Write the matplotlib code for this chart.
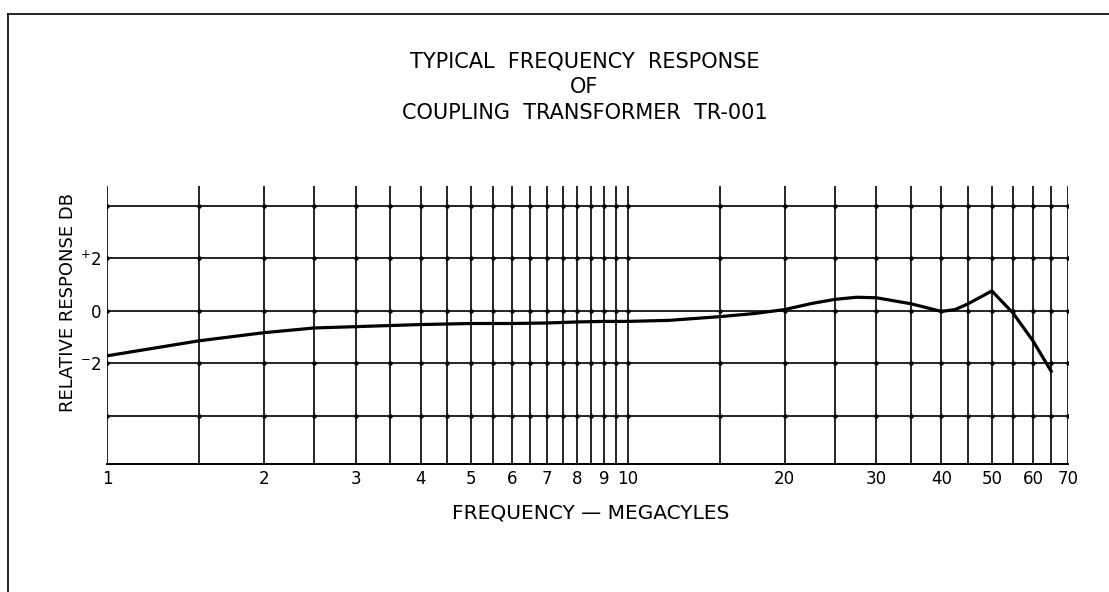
import numpy as np
import matplotlib.pyplot as plt

# values
freq_mc = [1, 1.5, 2, 2.5, 3, 4, 5, 6, 7, 8, 9, 10, 12, 15, 17.5, 20, 22.5, 25,
           27.5, 30, 35, 40, 42.5, 45, 50, 55, 60, 65]
response_db = [-1.71, -1.14, -0.83, -0.65, -0.6, -0.52, -0.48, -0.48, -0.46, -0.42,
               -0.4, -0.4, -0.36, -0.22, -0.1, 0.05, 0.28, 0.44, 0.52, 0.5, 0.27,
               -0.02, 0.05, 0.27, 0.76, -0.1, -1.15, -2.3]

grid_x = [1, 1.5, 2, 2.5, 3, 3.5, 4, 4.5, 5, 5.5, 6, 6.5, 7, 7.5, 8, 8.5, 9, 9.5,
          10, 15, 20, 25, 30, 35, 40, 45, 50, 55, 60, 65, 70]
grid_y = [-4, -2, 0, 2, 4]
xtick_vals = [1, 2, 3, 4, 5, 6, 7, 8, 9, 10, 20, 30, 40, 50, 60, 70]
xtick_labels = ['1', '2', '3', '4', '5', '6', '7', '8', '9', '10', '20', '30', '40', '50', '60', '70']
ytick_vals = [2, 0, -2]
ytick_labels = [r'$^{+}$2', '0', r'$^{-}$2']

title_lines = ['TYPICAL  FREQUENCY  RESPONSE', 'OF', 'COUPLING  TRANSFORMER  TR-001']

plt.rcParams['font.family'] = ['DejaVu Sans']
plt.rcParams['mathtext.default'] = 'regular'

fig = plt.figure(figsize=(11.09, 5.92), dpi=100)
ax = fig.add_axes([0.0965, 0.2162, 0.8665, 0.4698])

ax.set_xscale('log')
ax.set_xlim(1, 70)
ax.set_ylim(-5.83, 4.76)

# grid drawn by hand so the top stays open
for gx in grid_x:
    ax.axvline(gx, color='black', lw=1.2, zorder=1)
for gy in grid_y:
    ax.axhline(gy, color='black', lw=1.2, zorder=1)
gxx, gyy = np.meshgrid(grid_x, grid_y)
ax.plot(gxx.ravel(), gyy.ravel(), 'o', color='black', ms=2.2, zorder=2)

ax.plot(freq_mc, response_db, color='black', lw=2.3, zorder=3)

for side in ['top', 'left', 'right']:
    ax.spines[side].set_visible(False)
ax.spines['bottom'].set_linewidth(1.4)

ax.set_xticks(xtick_vals)
ax.set_xticklabels(xtick_labels)
ax.xaxis.set_minor_locator(plt.NullLocator())
ax.set_yticks(ytick_vals)
ax.set_yticklabels(ytick_labels)
ax.tick_params(length=0, labelsize=12, pad=4)

ax.text(0.503, -0.175, 'FREQUENCY \u2014 MEGACYLES', transform=ax.transAxes,
        ha='center', va='center', fontsize=14.5)
ax.text(-0.0406, 0.579, 'RELATIVE RESPONSE DB', transform=ax.transAxes,
        ha='center', va='center', rotation=90, fontsize=13)

fig.text(0.527, 0.853, '\n'.join(title_lines), ha='center', va='center',
         fontsize=15, linespacing=1.35)

# page frame
fig.add_artist(plt.Line2D([0.007, 1.0], [0.977, 0.977], color='black', lw=1.2))
fig.add_artist(plt.Line2D([0.007, 0.007], [0.0, 0.977], color='black', lw=1.2))

fig.savefig('out.png', dpi=100)
